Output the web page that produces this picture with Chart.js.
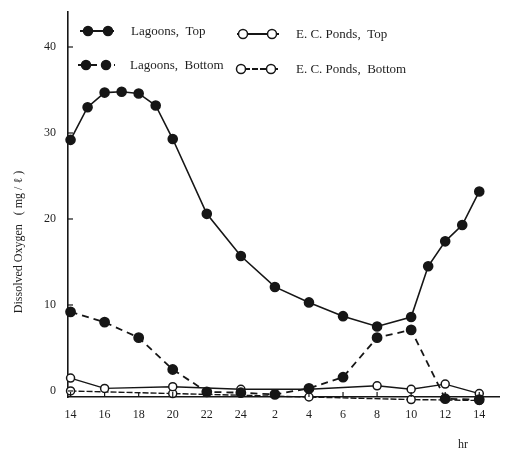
<!DOCTYPE html>
<html>
<head>
<meta charset="utf-8">
<script src="https://cdn.jsdelivr.net/npm/chart.js@4.4.1/dist/chart.umd.min.js"></script>
<style>
    html, body { margin: 0; padding: 0; background: #fff; }
</style>
</head>
<body>
<canvas id="oxygenGraph" width="506" height="452"></canvas>
<script>
// hours elapsed since 14:00 on day one
const tickHours = [0, 2, 4, 6, 8, 10, 12, 14, 16, 18, 20, 22, 24];
const tickLabels = ['14', '16', '18', '20', '22', '24', '2', '4', '6', '8', '10', '12', '14'];
const yTicks = [0, 10, 20, 30, 40];

const lagoonTopHours = [0, 1, 2, 3, 4, 5, 6, 8, 10, 12, 14, 16, 18, 20, 21, 22, 23, 24];
const lagoonTopValues = [29.2, 33.0, 34.7, 34.8, 34.6, 33.2, 29.3, 20.6, 15.7, 12.1, 10.3, 8.7, 7.5, 8.6, 14.5, 17.4, 19.3, 23.2];

const lagoonBottomHours = [0, 2, 4, 6, 8, 10, 12, 14, 16, 18, 20, 22, 24];
const lagoonBottomValues = [9.2, 8.0, 6.2, 2.5, -0.1, -0.2, -0.4, 0.3, 1.6, 6.2, 7.1, -0.9, -1.0];

const pondTopHours = [0, 2, 6, 10, 14, 18, 20, 22, 24];
const pondTopValues = [1.5, 0.3, 0.5, 0.2, 0.2, 0.6, 0.2, 0.8, -0.3];

const pondBottomHours = [0, 6, 14, 20, 24];
const pondBottomValues = [0.0, -0.3, -0.7, -1.0, -1.1];

const ink = '#161616';
const serif = '"Liberation Serif", "DejaVu Serif", serif';

function toPoints(hours, values) {
    return hours.map((h, i) => ({ x: h, y: values[i] }));
}

// legend spots and axis titles, drawn like the original figure
const legendSpots = [
    { ds: 0, x1: 80, x2: 114, y: 31, m: [88, 108], tx: 131, ty: 32, text: 'Lagoons,  Top' },
    { ds: 2, x1: 237, x2: 279, y: 34, m: [243, 272], tx: 296, ty: 35, text: 'E. C. Ponds,  Top' },
    { ds: 1, x1: 78, x2: 115, y: 65, m: [86, 106], tx: 130, ty: 66, text: 'Lagoons,  Bottom' },
    { ds: 3, x1: 236, x2: 278, y: 69, m: [241, 271], tx: 296, ty: 70, text: 'E. C. Ponds,  Bottom' }
];

const paperExtras = {
    id: 'paperExtras',
    afterDraw(chart) {
        const ctx = chart.ctx;
        const x = chart.scales.x;
        const y = chart.scales.y;
        const area = chart.chartArea;
        ctx.save();

        // inward tick marks
        ctx.strokeStyle = ink;
        ctx.lineWidth = 1.2;
        yTicks.forEach(v => {
            const py = y.getPixelForValue(v);
            ctx.beginPath();
            ctx.moveTo(area.left, py);
            ctx.lineTo(area.left + 5, py);
            ctx.stroke();
        });
        tickHours.forEach(h => {
            const px = x.getPixelForValue(h);
            ctx.beginPath();
            ctx.moveTo(px, area.bottom);
            ctx.lineTo(px, area.bottom - 5);
            ctx.stroke();
        });

        // y title
        ctx.fillStyle = '#1e1e1e';
        ctx.font = '12px ' + serif;
        ctx.textAlign = 'center';
        ctx.textBaseline = 'middle';
        ctx.save();
        ctx.translate(19, 242);
        ctx.rotate(-Math.PI / 2);
        ctx.fillText('Dissolved Oxygen   ( mg / ℓ )', 0, 0);
        ctx.restore();

        // unit under x axis
        ctx.fillText('hr', 463, 445);

        // legend
        ctx.font = '13px ' + serif;
        ctx.textAlign = 'left';
        legendSpots.forEach(spot => {
            const ds = chart.data.datasets[spot.ds];
            ctx.strokeStyle = ink;
            ctx.lineWidth = 1.8;
            ctx.setLineDash(ds.borderDash || []);
            ctx.beginPath();
            ctx.moveTo(spot.x1, spot.y);
            ctx.lineTo(spot.x2, spot.y);
            ctx.stroke();
            ctx.setLineDash([]);
            spot.m.forEach(mx => {
                ctx.beginPath();
                ctx.arc(mx, spot.y, 4.5, 0, Math.PI * 2);
                ctx.fillStyle = ds.pointBackgroundColor;
                ctx.fill();
                ctx.lineWidth = 1.5;
                ctx.stroke();
            });
            ctx.fillStyle = '#1e1e1e';
            ctx.fillText(spot.text, spot.tx, spot.ty);
        });
        ctx.restore();
    }
};

function drawOxygenGraph() {
    const oxygenGraph = document.getElementById('oxygenGraph');

    new Chart(oxygenGraph, {
        type: 'line',
        plugins: [paperExtras],
        data: {
            datasets: [
                {
                    label: 'Lagoons, Top',
                    data: toPoints(lagoonTopHours, lagoonTopValues),
                    borderColor: ink,
                    borderWidth: 1.6,
                    pointRadius: 4.5,
                    pointBackgroundColor: ink,
                    pointBorderColor: ink,
                    clip: false
                },
                {
                    label: 'Lagoons, Bottom',
                    data: toPoints(lagoonBottomHours, lagoonBottomValues),
                    borderColor: ink,
                    borderWidth: 1.8,
                    borderDash: [7, 5],
                    pointRadius: 4.5,
                    pointBackgroundColor: ink,
                    pointBorderColor: ink,
                    clip: false
                },
                {
                    label: 'E. C. Ponds, Top',
                    data: toPoints(pondTopHours, pondTopValues),
                    borderColor: ink,
                    borderWidth: 1.4,
                    pointRadius: 4,
                    pointBorderWidth: 1.5,
                    pointBackgroundColor: '#ffffff',
                    pointBorderColor: ink,
                    clip: false
                },
                {
                    label: 'E. C. Ponds, Bottom',
                    data: toPoints(pondBottomHours, pondBottomValues),
                    borderColor: ink,
                    borderWidth: 1.4,
                    borderDash: [6, 2],
                    pointRadius: 4,
                    pointBorderWidth: 1.5,
                    pointBackgroundColor: '#ffffff',
                    pointBorderColor: ink,
                    clip: false
                }
            ]
        },
        options: {
            responsive: false,
            animation: false,
            layout: {
                padding: { top: 12, right: 6, left: 0, bottom: 0 }
            },
            plugins: {
                legend: { display: false },
                tooltip: { enabled: false }
            },
            scales: {
                x: {
                    type: 'linear',
                    min: -0.15,
                    max: 25.2,
                    afterFit: scale => {
                        scale.height = 55;
                        scale.paddingLeft = 0;
                        scale.paddingRight = 0;
                    },
                    afterBuildTicks: scale => {
                        scale.ticks = tickHours.map(v => ({ value: v }));
                    },
                    grid: { display: true, drawOnChartArea: false, drawTicks: false },
                    border: { color: ink, width: 1.5 },
                    ticks: {
                        padding: 11,
                        color: '#1e1e1e',
                        font: { family: serif, size: 12 },
                        callback: (value, index) => tickLabels[index]
                    }
                },
                y: {
                    min: -0.7,
                    max: 44.07,
                    afterFit: scale => {
                        scale.width = 68;
                        scale.paddingTop = 0;
                        scale.paddingBottom = 0;
                    },
                    afterBuildTicks: scale => {
                        scale.ticks = yTicks.map(v => ({ value: v }));
                    },
                    grid: { display: true, drawOnChartArea: false, drawTicks: false },
                    border: { color: ink, width: 1.6 },
                    ticks: {
                        padding: 12,
                        color: '#1e1e1e',
                        font: { family: serif, size: 12 }
                    }
                }
            }
        }
    });
}

drawOxygenGraph();
</script>
</body>
</html>
